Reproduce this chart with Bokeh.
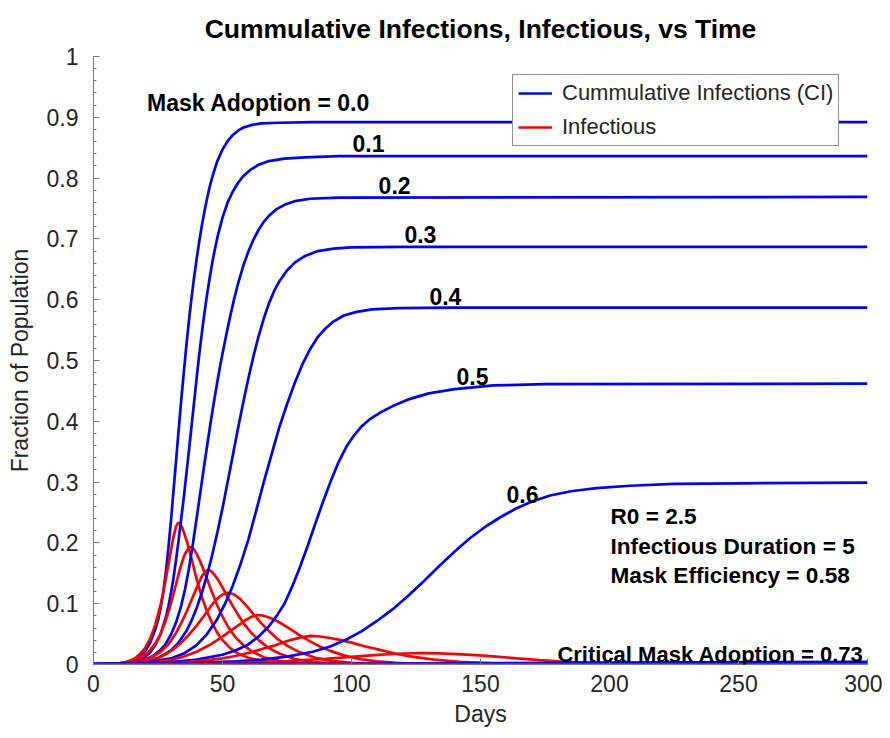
from bokeh.plotting import figure
from bokeh.models import Legend, LegendItem, SingleIntervalTicker, CustomJSTickFormatter, Range1d, Label
from bokeh.embed import file_html
from bokeh.resources import INLINE

# ---------------- data ----------------
# Cumulative infections (blue), one list per mask adoption level
ci_days_00 = [0, 5, 10, 13, 16, 18, 20, 22, 24, 25, 26, 27, 28, 29, 30, 31, 32, 33, 34, 35, 36, 37, 38, 39, 40, 41, 42, 43, 44, 45, 46, 47, 48, 50, 52, 54, 56, 58, 61, 65, 72, 85, 300]
ci_vals_00 = [0.0005, 0.001, 0.002, 0.004, 0.008, 0.013, 0.022, 0.036, 0.058, 0.073, 0.092, 0.118, 0.15, 0.19, 0.235, 0.285, 0.335, 0.385, 0.435, 0.48, 0.525, 0.566, 0.603, 0.637, 0.668, 0.696, 0.722, 0.745, 0.766, 0.785, 0.801, 0.815, 0.828, 0.847, 0.861, 0.871, 0.878, 0.883, 0.887, 0.89, 0.891, 0.892, 0.892]

ci_days_01 = [0, 5, 10, 14, 17, 20, 22, 24, 26, 28, 29, 30, 31, 32, 33, 34, 35, 36, 37, 38, 39, 40, 41, 42, 43, 44, 45, 46, 47, 48, 50, 52, 54, 56, 58, 61, 64, 68, 74, 82, 95, 300]
ci_vals_01 = [0.0005, 0.0008, 0.0015, 0.003, 0.006, 0.013, 0.02, 0.032, 0.05, 0.077, 0.095, 0.117, 0.142, 0.172, 0.205, 0.24, 0.275, 0.313, 0.352, 0.392, 0.432, 0.472, 0.51, 0.545, 0.578, 0.608, 0.635, 0.66, 0.682, 0.702, 0.735, 0.76, 0.778, 0.792, 0.803, 0.814, 0.822, 0.828, 0.832, 0.834, 0.836, 0.836]

ci_days_02 = [0, 10, 15, 20, 23, 26, 28, 30, 32, 34, 35.5, 37, 38.5, 40, 41.5, 43, 44.5, 46, 47, 48, 49, 50, 51.5, 53, 54.5, 56, 58, 60, 62, 64, 66, 68, 71, 74, 78, 84, 95, 300]
ci_vals_02 = [0.0005, 0.0012, 0.003, 0.008, 0.014, 0.024, 0.034, 0.049, 0.069, 0.097, 0.124, 0.158, 0.198, 0.241, 0.286, 0.33, 0.373, 0.414, 0.44, 0.465, 0.489, 0.511, 0.543, 0.573, 0.601, 0.626, 0.655, 0.679, 0.699, 0.715, 0.728, 0.738, 0.749, 0.756, 0.762, 0.766, 0.768, 0.769]

ci_days_03 = [0, 10, 20, 25, 30, 33, 36, 38, 40, 42, 44, 46, 48, 50, 52, 54, 56, 58, 60, 62, 64, 66, 68, 70, 72, 75, 78, 82, 87, 93, 100, 120, 300]
ci_vals_03 = [0.0005, 0.0012, 0.004, 0.01, 0.023, 0.036, 0.055, 0.072, 0.093, 0.118, 0.147, 0.18, 0.217, 0.257, 0.3, 0.344, 0.388, 0.43, 0.47, 0.507, 0.54, 0.569, 0.594, 0.614, 0.63, 0.648, 0.661, 0.672, 0.68, 0.684, 0.686, 0.687, 0.687]

ci_days_04 = [0, 10, 20, 30, 35, 40, 44, 48, 51, 54, 57, 60, 63, 66, 69, 72, 75, 78, 81, 84, 87, 90, 93, 97, 102, 108, 118, 140, 300]
ci_vals_04 = [0.0005, 0.0012, 0.003, 0.01, 0.018, 0.032, 0.05, 0.075, 0.1, 0.13, 0.165, 0.205, 0.252, 0.3, 0.345, 0.39, 0.428, 0.463, 0.494, 0.519, 0.539, 0.553, 0.564, 0.574, 0.58, 0.584, 0.586, 0.587, 0.587]

ci_days_05 = [0, 20, 30, 40, 50, 55, 60, 64, 68, 71, 74, 77, 80, 83, 86, 89, 92, 95, 98, 101, 104, 107, 111, 116, 122, 130, 140, 155, 175, 300]
ci_vals_05 = [0.0005, 0.002, 0.004, 0.008, 0.016, 0.023, 0.033, 0.046, 0.063, 0.08, 0.1, 0.128, 0.16, 0.195, 0.232, 0.268, 0.302, 0.333, 0.358, 0.377, 0.392, 0.403, 0.414, 0.425, 0.436, 0.446, 0.453, 0.459, 0.461, 0.462]

ci_days_06 = [0, 20, 40, 55, 65, 75, 85, 92, 98, 104, 110, 116, 122, 128, 134, 140, 146, 152, 158, 164, 170, 177, 185, 195, 208, 225, 250, 300]
ci_vals_06 = [0.0005, 0.0012, 0.0028, 0.005, 0.008, 0.013, 0.021, 0.03, 0.041, 0.055, 0.072, 0.091, 0.113, 0.137, 0.162, 0.186, 0.208, 0.227, 0.243, 0.257, 0.268, 0.278, 0.285, 0.29, 0.294, 0.297, 0.298, 0.299]

ci_days_07 = [0, 100, 200, 300]
ci_vals_07 = [0.0005, 0.0015, 0.003, 0.0045]

# Infectious (red), one list per mask adoption level
inf_days_00 = [0, 5, 10, 13, 16, 18, 20, 22, 24, 26, 27, 28, 29, 30, 31, 32, 32.8, 33.5, 34.5, 36, 37, 38, 39, 40, 42, 44, 46, 48, 50, 53, 56, 60, 65, 72, 80, 95, 120, 300]
inf_vals_00 = [0.0003, 0.0008, 0.002, 0.0045, 0.01, 0.017, 0.027, 0.043, 0.066, 0.098, 0.118, 0.14, 0.163, 0.187, 0.21, 0.227, 0.233, 0.232, 0.224, 0.205, 0.19, 0.174, 0.157, 0.14, 0.111, 0.087, 0.068, 0.052, 0.04, 0.027, 0.018, 0.011, 0.006, 0.003, 0.0012, 0.0003, 0.0, 0.0]

inf_days_01 = [0, 5, 10, 14, 17, 20, 22, 24, 26, 28, 30, 32, 33, 34, 35, 36, 37, 38, 39, 40, 41, 42, 43, 44, 46, 48, 50, 52, 55, 58, 62, 66, 72, 80, 90, 110, 140, 300]
inf_vals_01 = [0.0003, 0.0007, 0.0015, 0.004, 0.008, 0.016, 0.024, 0.035, 0.05, 0.072, 0.1, 0.132, 0.149, 0.164, 0.177, 0.186, 0.192, 0.193, 0.189, 0.182, 0.173, 0.163, 0.152, 0.141, 0.118, 0.097, 0.079, 0.063, 0.045, 0.032, 0.02, 0.012, 0.006, 0.0025, 0.0008, 0.0001, 0.0, 0.0]

inf_days_02 = [0, 10, 15, 18, 20, 23, 26, 29, 32, 34, 36, 38, 40, 41, 42, 43, 44, 45, 46, 47, 48, 50, 52, 54, 56, 58, 61, 64, 68, 72, 78, 85, 95, 110, 150, 300]
inf_vals_02 = [0.0003, 0.001, 0.003, 0.005, 0.0075, 0.013, 0.021, 0.033, 0.052, 0.068, 0.086, 0.106, 0.126, 0.136, 0.145, 0.151, 0.155, 0.155, 0.152, 0.147, 0.141, 0.127, 0.111, 0.096, 0.082, 0.069, 0.053, 0.04, 0.027, 0.018, 0.009, 0.004, 0.0015, 0.0003, 0.0, 0.0]

inf_days_03 = [0, 10, 15, 20, 25, 28, 31, 34, 37, 40, 43, 45, 47, 49, 50.5, 52, 53.5, 55, 57, 59, 62, 65, 68, 71, 75, 80, 86, 93, 100, 115, 140, 300]
inf_vals_03 = [0.0003, 0.0008, 0.0018, 0.005, 0.011, 0.017, 0.025, 0.036, 0.049, 0.064, 0.081, 0.093, 0.104, 0.112, 0.116, 0.118, 0.117, 0.114, 0.107, 0.098, 0.083, 0.068, 0.055, 0.043, 0.031, 0.02, 0.011, 0.0055, 0.0027, 0.0007, 0.0001, 0.0]

inf_days_04 = [0, 10, 20, 25, 30, 35, 40, 45, 50, 53, 56, 59, 61, 63, 65, 67, 70, 73, 76, 80, 84, 88, 92, 97, 103, 110, 120, 135, 160, 300]
inf_vals_04 = [0.0003, 0.0007, 0.0022, 0.004, 0.0075, 0.013, 0.021, 0.032, 0.046, 0.055, 0.064, 0.073, 0.078, 0.081, 0.081, 0.079, 0.074, 0.067, 0.059, 0.048, 0.038, 0.029, 0.022, 0.015, 0.009, 0.005, 0.002, 0.0006, 0.0001, 0.0]

inf_days_05 = [0, 10, 20, 30, 40, 50, 55, 60, 65, 70, 74, 77, 81, 84, 87, 91, 95, 100, 105, 111, 117, 124, 132, 142, 155, 172, 200, 300]
inf_vals_05 = [0.0003, 0.0006, 0.0012, 0.0025, 0.005, 0.01, 0.014, 0.019, 0.025, 0.031, 0.037, 0.041, 0.045, 0.047, 0.0465, 0.044, 0.041, 0.036, 0.03, 0.024, 0.018, 0.0125, 0.008, 0.0045, 0.002, 0.0007, 0.0001, 0.0]

inf_days_06 = [0, 20, 40, 60, 75, 90, 100, 110, 118, 123, 128, 134, 141, 148, 156, 164, 173, 183, 193, 208, 228, 258, 300]
inf_vals_06 = [0.0003, 0.0006, 0.0013, 0.003, 0.0055, 0.0095, 0.0125, 0.0157, 0.0177, 0.0185, 0.0187, 0.0183, 0.0172, 0.0155, 0.013, 0.0102, 0.0072, 0.0045, 0.0028, 0.0014, 0.0006, 0.0002, 0.0001]

inf_days_07 = [0, 100, 200, 300]
inf_vals_07 = [0.0003, 0.0005, 0.0004, 0.0003]

series = [
    (ci_days_00, ci_vals_00, inf_days_00, inf_vals_00),
    (ci_days_01, ci_vals_01, inf_days_01, inf_vals_01),
    (ci_days_02, ci_vals_02, inf_days_02, inf_vals_02),
    (ci_days_03, ci_vals_03, inf_days_03, inf_vals_03),
    (ci_days_04, ci_vals_04, inf_days_04, inf_vals_04),
    (ci_days_05, ci_vals_05, inf_days_05, inf_vals_05),
    (ci_days_06, ci_vals_06, inf_days_06, inf_vals_06),
    (ci_days_07, ci_vals_07, inf_days_07, inf_vals_07),
]

curve_labels = ["0.1", "0.2", "0.3", "0.4", "0.5", "0.6"]
curve_label_x = [106.6, 116.7, 126.7, 136.4, 146.9, 166.3]
curve_label_y = [0.857, 0.788, 0.707, 0.605, 0.474, 0.280]

param_lines = ["R0 = 2.5", "Infectious Duration = 5", "Mask Efficiency = 0.58"]

# ---------------- figure ----------------
FONT = "Liberation Sans"
AX = "#262626"
AXLINE = "#7a7a7a"

p = figure(width=882, height=730, output_backend="svg", toolbar_location=None,
           x_range=Range1d(0, 300), y_range=Range1d(0, 1),
           min_border_left=93, min_border_right=15, min_border_top=56, min_border_bottom=66)
p.outline_line_color = None
p.xgrid.visible = False
p.ygrid.visible = False
p.background_fill_color = "white"

p.title.text = "Cummulative Infections, Infectious, vs Time"
p.title.align = "center"
p.title.vertical_align = "top"
p.title.text_font = FONT
p.title.text_font_size = "26.5px"
p.title.text_font_style = "bold"
p.title.text_color = "black"
p.title.standoff = 22

blue_r = None
red_r = None
for cd, cv, idays, iv in series:
    b = p.line(cd, cv, line_color="#0000FF", line_width=2.7)
    r = p.line(idays, iv, line_color="#FF0000", line_width=2.7)
    if blue_r is None:
        blue_r, red_r = b, r

fmt = CustomJSTickFormatter(code="return tick.toFixed(1).replace(/\\.0$/, '');")
p.xaxis.ticker = SingleIntervalTicker(interval=50, num_minor_ticks=0)
p.yaxis.ticker = SingleIntervalTicker(interval=0.1, num_minor_ticks=5)
for ax in (p.xaxis, p.yaxis):
    ax.formatter = fmt
    ax.axis_line_color = AXLINE
    ax.major_tick_line_color = AXLINE
    ax.minor_tick_line_color = AXLINE
    ax.major_tick_in = 6
    ax.major_tick_out = 0
    ax.minor_tick_in = 3
    ax.minor_tick_out = 0
    ax.major_label_text_font = FONT
    ax.major_label_text_font_size = "23px"
    ax.major_label_text_color = AX
    ax.axis_label_text_font = FONT
    ax.axis_label_text_font_size = "23px"
    ax.axis_label_text_font_style = "normal"
    ax.axis_label_text_color = AX
p.xaxis.axis_label = "Days"
p.yaxis.axis_label = "Fraction of Population"
p.xaxis.major_label_standoff = 10
p.yaxis.major_label_standoff = 15
p.xaxis.axis_label_standoff = 6
p.yaxis.axis_label_standoff = 11

legend = Legend(items=[LegendItem(label="Cummulative Infections (CI)", renderers=[blue_r]),
                       LegendItem(label="Infectious", renderers=[red_r])],
                location=(419, 518))
legend.label_text_font = FONT
legend.label_text_font_size = "22px"
legend.label_text_color = AX
legend.border_line_color = AX
legend.border_line_width = 1
legend.background_fill_color = "white"
legend.background_fill_alpha = 1
legend.glyph_width = 34
legend.glyph_height = 26
legend.label_height = 26
legend.spacing = 8
legend.padding = 5
legend.margin = 0
legend.label_standoff = 10
p.add_layout(legend)

def add_text(x, y, txt, align="left", size="23px"):
    p.add_layout(Label(x=x, y=y, text=txt, text_font=FONT, text_font_size=size,
                       text_font_style="bold", text_color="black",
                       text_align=align, text_baseline="middle"))

add_text(64, 0.924, "Mask Adoption = 0.0", "center")
for t, lx, ly in zip(curve_labels, curve_label_x, curve_label_y):
    add_text(lx, ly, t, "center")
for i, t in enumerate(param_lines):
    add_text(200.4, 0.243 - i * 0.0485, t, size="22.6px")
add_text(179.8, 0.0164, "Critical Mask Adoption = 0.73", size="22px")

open("out.html", "w").write(file_html(p, INLINE))
